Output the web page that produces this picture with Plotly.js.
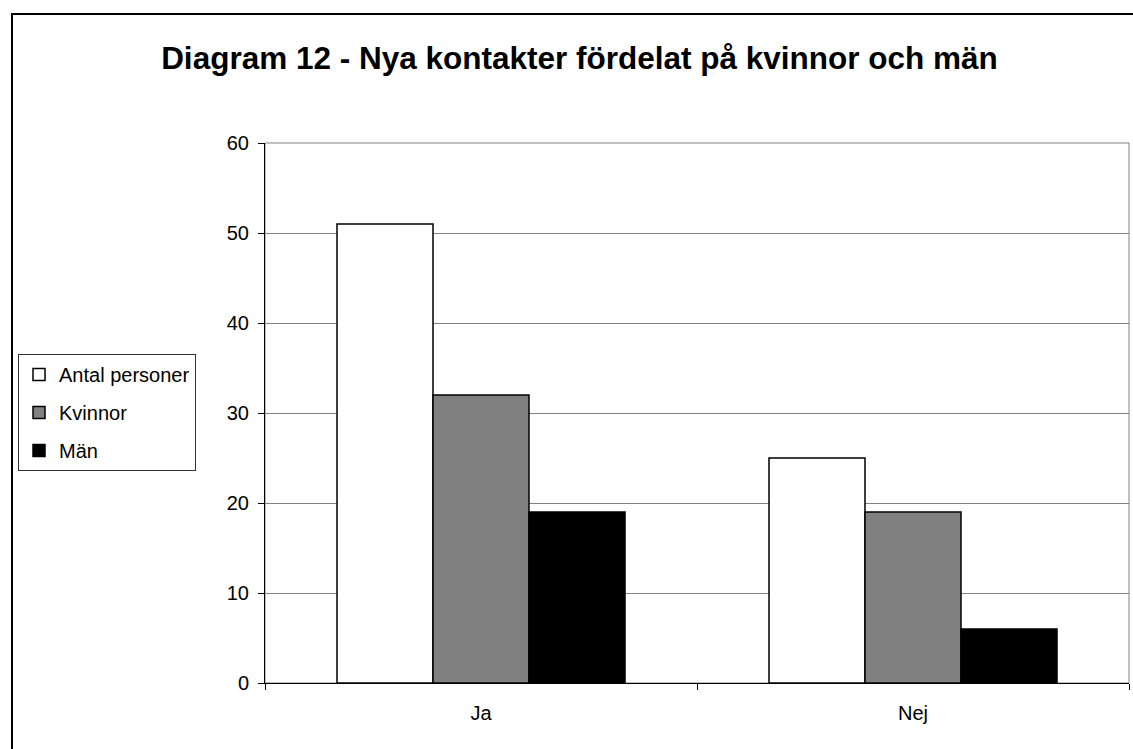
<!DOCTYPE html>
<html>
<head>
<meta charset="utf-8">
<script src="https://cdn.plot.ly/plotly-3.0.1.min.js"></script>
<style>html,body{margin:0;padding:0;background:#fff;}#chart{width:1133px;height:749px;}</style>
</head>
<body>
<div id="chart"></div>
<script>
const categories = ["Ja", "Nej"];
const seriesNames = ["Antal personer", "Kvinnor", "Män"];
const antalPersoner = [51, 25];
const kvinnor = [32, 19];
const man = [19, 6];
const yTicks = [0, 10, 20, 30, 40, 50, 60];
const titleText = "Diagram 12 - Nya kontakter fördelat på kvinnor och män";

const colors = ["#ffffff", "#808080", "#000000"];
const values = [antalPersoner, kvinnor, man];

const traces = values.map((v, i) => ({
  type: "bar",
  name: seriesNames[i],
  legendgroup: "g" + i,
  x: categories,
  y: v,
  marker: {color: colors[i], line: {color: "#000", width: 1.5}},
  hoverinfo: "none"
}));

const L = 265, R = 4, T = 143, B = 66;
const W = 1133, H = 749;
const pw = W - L - R, ph = H - T - B;
const px = x => (x - L) / pw;
const py = y => (H - B - y) / ph;

const layout = {
  width: W, height: H,
  margin: {l: L, r: R, t: T, b: B},
  paper_bgcolor: "#fff",
  plot_bgcolor: "#fff",
  font: {family: "Liberation Sans, Arial, sans-serif", size: 20, color: "#000"},
  title: {text: "<b>" + titleText + "</b>", font: {size: 31.5, family: "Liberation Sans, Arial, sans-serif"}, x: 579.5 / W, xanchor: "center", y: 1 - 58/H, yanchor: "middle"},
  barmode: "group",
  bargap: 1/3,
  bargroupgap: 0,
  showlegend: true,
  legend: {
    x: px(18), xanchor: "left", y: py(354), yanchor: "top",
    bgcolor: "#fff", bordercolor: "#333", borderwidth: 1,
    font: {size: 20}, traceorder: "grouped", itemwidth: 30,
    tracegroupgap: 9
  },
  xaxis: {
    type: "category",
    tickson: "boundaries",
    ticks: "outside", ticklen: 6, tickcolor: "#000",
    showline: true, linecolor: "#000", linewidth: 1,
    showgrid: false, zeroline: false,
    tickfont: {size: 20},
    ticklabelstandoff: 12
  },
  yaxis: {
    range: [0, 60],
    tickvals: yTicks,
    ticks: "outside", ticklen: 6, tickcolor: "#000",
    showline: true, linecolor: "#000", linewidth: 1,
    showgrid: true, gridcolor: "#808080", gridwidth: 1,
    zeroline: false,
    tickfont: {size: 20},
    ticklabelstandoff: 5
  },
  shapes: [
    {type: "rect", xref: "paper", yref: "paper", x0: 0, x1: 1, y0: 0, y1: 1,
     line: {color: "#808080", width: 1}, layer: "below"},
    {type: "rect", xref: "paper", yref: "paper", x0: px(12), x1: px(1145), y0: py(760), y1: py(14),
     line: {color: "#000", width: 2}, fillcolor: "rgba(0,0,0,0)", layer: "above"}
  ]
};

Plotly.newPlot("chart", traces, layout, {staticPlot: true, displayModeBar: false});
</script>
</body>
</html>
